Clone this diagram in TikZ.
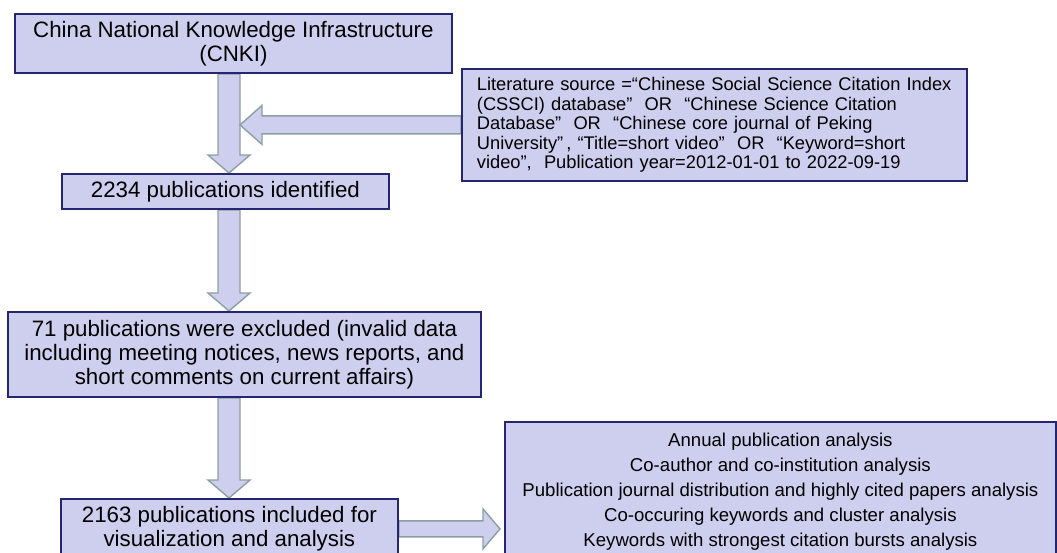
\documentclass[tikz,border=0pt]{standalone}
\usepackage{fontspec}
\setmainfont{Liberation Sans}
\usetikzlibrary{calc,backgrounds}
\definecolor{boxfill}{RGB}{206,206,238}
\definecolor{boxline}{RGB}{38,38,112}
\definecolor{arrline}{RGB}{138,160,160}
\tikzset{
  box/.style={draw=boxline, line width=1.8pt, fill=boxfill, inner sep=0pt, anchor=north west, align=center},
  bigtext/.style={font=\fontsize{22.3}{24}\selectfont},
  blockarrow/.style={draw=arrline, line width=1.4pt, fill=boxfill, line join=miter}
}
\newcommand\blockdown[2]{%
  \draw[blockarrow] ($(#1)+(-11,0)$) -- ($(#2)+(-11,-18)$) -- ($(#2)+(-21,-18)$) -- (#2)
    -- ($(#2)+(21,-18)$) -- ($(#2)+(11,-18)$) -- ($(#1)+(11,0)$) -- cycle;}
\newcommand\blockleft[2]{%
  \draw[blockarrow] ($(#1)+(0,-9)$) -- ($(#2)+(22,-9)$) -- ($(#2)+(22,-19.5)$) -- (#2)
    -- ($(#2)+(22,19.5)$) -- ($(#2)+(22,9)$) -- ($(#1)+(0,9)$) -- cycle;}
\newcommand\blockright[2]{%
  \draw[blockarrow] ($(#1)+(0,-8)$) -- ($(#2)+(-17,-8)$) -- ($(#2)+(-17,-20)$) -- (#2)
    -- ($(#2)+(-17,20)$) -- ($(#2)+(-17,8)$) -- ($(#1)+(0,8)$) -- cycle;}
\begin{document}
\begin{tikzpicture}[x=1pt,y=-1pt]
\useasboundingbox (0,0) rectangle (1057,552);
\coordinate (ax) at (229,0);
\node[box, bigtext, minimum width=437pt, minimum height=59pt] (cnki) at (14,13)
  {China National Knowledge Infrastructure\\(CNKI)};
\node[box, minimum width=505pt, minimum height=112pt, text width=475pt, inner xsep=15pt, align=left, font=\fontsize{18.3}{19.6}\selectfont] (src) at (461,68)
  {Literature source =“Chinese Social Science Citation Index\\
   (CSSCI) database”\ \ OR\ \ “Chinese Science Citation\\
   Database”\ \ OR\ \ “Chinese core journal of Peking\\
   University”\,,\ “Title=short video”\ \ OR\ \ “Keyword=short\\
   video”,\ \ Publication year=2012-01-01 to 2022-09-19};
\node[box, bigtext, minimum width=327pt, minimum height=35pt] (ident) at (61,173)
  {2234 publications identified};
\node[box, bigtext, minimum width=473pt, minimum height=85pt] (excl) at (7,311)
  {71 publications were excluded (invalid data\\including meeting notices, news reports, and\\short comments on current affairs)};
\node[box, bigtext, minimum width=337pt, minimum height=60pt] (incl) at (60,498)
  {2163 publications included for\\visualization and analysis};
\node[box, minimum width=551pt, minimum height=140pt, font=\fontsize{18.6}{25}\selectfont] (res) at (504,421)
  {Annual publication analysis\\Co-author and co-institution analysis\\Publication journal distribution and highly cited papers analysis\\Co-occuring keywords and cluster analysis\\Keywords with strongest citation bursts analysis};
\begin{scope}[on background layer]
  \blockdown{cnki.south -| ax}{ident.north -| ax}
  \blockdown{ident.south -| ax}{excl.north -| ax}
  \blockdown{excl.south -| ax}{incl.north -| ax}
  \coordinate (ltip) at ($(src.west -| ax)+(11,0)$);
  \blockleft{src.west}{ltip}
  \coordinate (rtip) at ($(incl.east -| res.west)+(-4,0)$);
  \blockright{incl.east}{rtip}
\end{scope}
\end{tikzpicture}
\end{document}
